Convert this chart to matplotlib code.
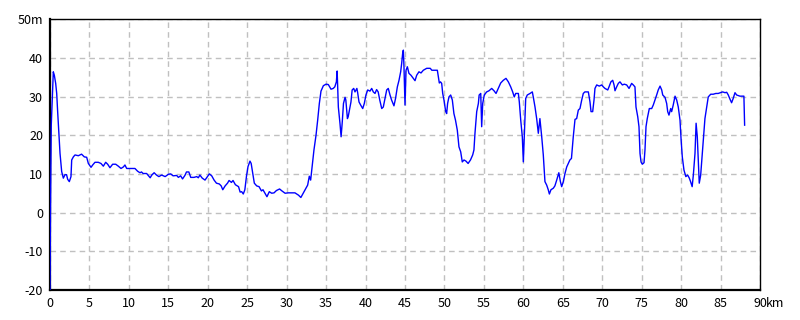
import numpy as np
import matplotlib.pyplot as plt

plt.rcParams['font.family'] = ['Noto Sans CJK JP', 'DejaVu Sans']

# 距離 (km) と標高 (m) — 図から読み取った値
km = [0.0, 0.06, 0.16, 0.42, 0.55, 0.72, 0.85, 0.97, 1.14, 1.27, 1.48, 1.69, 1.9, 2.1,
      2.24, 2.45, 2.66, 2.75, 2.96, 3.17, 3.59, 4.0, 4.35, 4.65, 4.86, 5.2, 5.41, 5.7,
      6.12, 6.46, 6.76, 7.06, 7.31, 7.6, 7.94, 8.33, 8.66, 9.0, 9.3, 9.5, 9.72, 10.0,
      10.35, 10.77, 11.1, 11.4, 11.6, 11.8, 12.25, 12.7, 12.9, 13.2, 13.5, 13.8, 14.15,
      14.6, 15.0, 15.3, 15.6, 16.06, 16.27, 16.56, 16.8, 17.1, 17.3, 17.6, 17.84, 18.25,
      18.6, 18.8, 19.0, 19.3, 19.65, 19.95, 20.2, 20.5, 20.8, 21.1, 21.46, 21.7, 21.9,
      22.2, 22.5, 22.7, 23.0, 23.2, 23.5, 23.9, 24.1, 24.3, 24.5, 24.7, 24.9, 25.1,
      25.35, 25.5, 25.7, 25.9, 26.2, 26.5, 26.8, 27.0, 27.25, 27.5, 27.8, 28.1, 28.4,
      28.7, 29.1, 29.4, 29.8, 30.2, 30.6, 31.05, 31.5, 31.8, 32.1, 32.45, 32.66, 32.87,
      33.04, 33.25, 33.46, 33.72, 33.93, 34.14, 34.35, 34.65, 34.99, 35.28, 35.62, 35.9,
      36.1, 36.3, 36.4, 36.55, 36.76, 36.9, 37.05, 37.2, 37.4, 37.5, 37.7, 37.8, 38.03,
      38.15, 38.3, 38.5, 38.66, 38.9, 39.0, 39.17, 39.38, 39.64, 39.84, 40.05, 40.27,
      40.56, 40.78, 40.98, 41.2, 41.4, 41.6, 41.8, 42.05, 42.25, 42.46, 42.68, 42.88,
      43.1, 43.3, 43.6, 43.8, 44.03, 44.24, 44.45, 44.58, 44.7, 44.79, 44.87, 45.0,
      45.13, 45.3, 45.5, 45.76, 46.05, 46.27, 46.48, 46.77, 47.03, 47.32, 47.75, 48.2,
      48.4, 48.8, 49.1, 49.2, 49.35, 49.5, 49.65, 49.78, 49.94, 50.16, 50.28, 50.4,
      50.57, 50.79, 51.0, 51.2, 51.4, 51.63, 51.84, 52.06, 52.26, 52.48, 52.73, 53.0,
      53.3, 53.58, 53.74, 53.87, 54.09, 54.3, 54.4, 54.6, 54.72, 54.85, 55.05, 55.35,
      55.65, 55.99, 56.28, 56.54, 56.83, 57.13, 57.46, 57.8, 58.1, 58.4, 58.65, 58.85,
      59.03, 59.37, 59.49, 59.67, 59.87, 60.0, 60.12, 60.3, 60.5, 60.85, 61.14, 61.26,
      61.48, 61.69, 61.9, 62.1, 62.33, 62.53, 62.74, 62.96, 63.16, 63.3, 63.5, 63.8,
      64.0, 64.23, 64.5, 64.7, 64.86, 65.07, 65.28, 65.5, 65.7, 65.9, 66.1, 66.33,
      66.55, 66.76, 66.97, 67.18, 67.4, 67.6, 67.8, 68.24, 68.45, 68.58, 68.79, 68.96,
      69.08, 69.3, 69.63, 69.93, 70.14, 70.35, 70.7, 70.86, 71.1, 71.33, 71.5, 71.62,
      71.83, 72.04, 72.25, 72.55, 72.8, 73.1, 73.4, 73.73, 73.94, 74.15, 74.28, 74.5,
      74.66, 74.79, 74.92, 75.08, 75.3, 75.42, 75.55, 75.71, 75.97, 76.27, 76.47,
      76.69, 76.9, 77.1, 77.33, 77.54, 77.67, 77.96, 78.17, 78.3, 78.46, 78.68, 78.8,
      79.0, 79.23, 79.44, 79.64, 79.86, 80.0, 80.15, 80.36, 80.6, 80.83, 81.04, 81.2,
      81.4, 81.55, 81.76, 81.9, 82.05, 82.18, 82.3, 82.48, 82.65, 82.8, 83.02, 83.24,
      83.44, 83.75, 84.07, 84.4, 84.7, 85.0, 85.27, 85.56, 85.78, 85.98, 86.2, 86.4,
      86.6, 86.83, 87.04, 87.46, 87.96, 88.05]
elev = [-20.0, 0.0, 22.6, 36.4, 35.5, 33.4, 30.8, 26.1, 20.0, 15.3, 10.6, 8.9, 9.8, 9.8,
        8.6, 8.0, 9.3, 13.6, 14.4, 14.9, 14.7, 15.1, 14.4, 14.3, 12.7, 11.7, 12.3, 13.0,
        13.0, 12.7, 12.0, 13.0, 12.5, 11.6, 12.5, 12.5, 12.0, 11.4, 11.8, 12.3, 11.4, 11.4,
        11.4, 11.4, 10.7, 10.3, 10.5, 10.1, 10.1, 9.0, 9.7, 10.3, 9.7, 9.3, 9.7,
        9.3, 9.9, 10.0, 9.5, 9.6, 9.1, 9.5, 8.7, 9.6, 10.5, 10.5, 9.1, 9.1,
        9.3, 9.0, 9.7, 8.9, 8.4, 9.3, 10.0, 9.5, 8.4, 7.6, 7.4, 6.9, 5.9,
        6.9, 7.6, 8.3, 7.8, 8.3, 7.2, 6.7, 5.3, 5.4, 4.8, 5.9, 9.3, 11.9,
        13.3, 12.7, 10.1, 7.6, 6.9, 6.7, 5.6, 5.9, 5.0, 4.1, 5.4, 5.0, 5.1,
        5.7, 6.1, 5.6, 5.0, 5.1, 5.1, 5.1, 4.5, 3.9, 5.0, 6.3, 7.1, 9.4,
        8.4, 12.3, 16.2, 20.0, 23.9, 28.2, 31.4, 32.8, 33.2, 33.1, 31.9, 32.1,
        32.5, 33.8, 36.6, 27.3, 23.0, 19.6, 23.5, 28.2, 29.8, 29.1, 24.3, 24.8, 27.3,
        28.6, 31.7, 32.1, 31.2, 32.1, 31.0, 28.6, 27.8, 26.9, 28.2, 30.4, 31.7,
        31.4, 32.1, 31.2, 30.8, 31.8, 31.2, 29.1, 26.9, 27.3, 29.5, 31.7, 32.1,
        30.4, 29.1, 27.6, 29.5, 32.5, 34.2, 36.4, 38.6, 41.1, 42.0, 37.7, 27.8,
        36.8, 37.7, 36.0, 35.5, 34.7, 34.1, 35.5, 36.4, 36.1, 36.8, 37.3, 37.3,
        36.8, 36.8, 36.8, 35.5, 33.5, 33.8, 33.4, 30.8, 29.1, 26.1, 25.6, 28.2,
        29.9, 30.4, 29.1, 25.6, 23.9, 21.3, 17.0, 15.7, 13.1, 13.6, 13.3, 12.7,
        13.6, 14.9, 16.2, 20.5, 26.1, 28.2, 30.4, 30.8, 22.2, 28.2, 30.4, 31.2,
        31.5, 32.1, 31.5, 30.8, 32.1, 33.5, 34.2, 34.7, 33.8, 32.5, 31.2, 29.9,
        30.8, 30.8, 28.6, 23.9, 19.6, 13.1, 19.6, 29.5, 30.4, 30.8, 31.2, 29.9,
        27.3, 24.3, 20.5, 24.3, 19.6, 14.9, 8.0, 7.1, 5.9, 4.8, 5.9, 6.3,
        6.9, 8.4, 10.3, 8.0, 6.7, 8.0, 10.1, 11.8, 12.7, 13.6, 14.0, 19.6,
        24.1, 24.3, 26.5, 26.9, 29.1, 30.8, 31.2, 31.2, 28.6, 26.1, 26.1, 29.1,
        32.1, 33.0, 32.7, 33.0, 32.5, 32.1, 31.7, 32.5, 33.8, 34.2, 33.0, 31.5,
        32.5, 33.4, 33.8, 33.0, 33.2, 33.0, 32.1, 33.4, 33.0, 32.5, 27.3, 24.8,
        22.2, 15.3, 13.1, 12.5, 12.9, 16.2, 22.2, 24.3, 26.9, 26.9, 27.8,
        29.1, 30.4, 31.7, 32.7, 31.7, 30.4, 29.8, 28.2, 26.1, 25.2, 26.9, 26.1,
        27.8, 30.1, 29.1, 27.3, 23.9, 18.8, 14.4, 11.0, 9.3, 9.7, 8.9, 8.0,
        6.7, 9.7, 15.3, 23.1, 19.6, 13.6, 7.6, 9.7, 14.4, 18.8, 24.3, 27.3,
        29.9, 30.6, 30.6, 30.8, 30.8, 31.0, 31.2, 31.0, 31.1, 30.4, 29.3, 28.4,
        29.5, 31.0, 30.4, 30.1, 30.1, 22.6]

xticks = [0, 5, 10, 15, 20, 25, 30, 35, 40, 45, 50, 55, 60, 65, 70, 75, 80, 85, 90]
xlabels = ['0', '5', '10', '15', '20', '25', '30', '35', '40', '45', '50', '55',
           '60', '65', '70', '75', '80', '85', '90']
yticks = [-20, -10, 0, 10, 20, 30, 40, 50]
ylabels = ['-20', '-10', '0', '10', '20', '30', '40', '50m']

fig = plt.figure(figsize=(8, 3.2), dpi=100)
ax = fig.add_axes([0.0625, 0.094, 0.8875, 0.846])

ax.plot(km, elev, color='#0000ff', lw=1, zorder=3)

ax.set_xlim(0, 90)
ax.set_ylim(-20, 50)
ax.set_xticks(xticks)
ax.set_xticklabels(xlabels)
ax.set_yticks(yticks)
ax.set_yticklabels(ylabels)
ax.tick_params(length=0, labelsize=9, pad=5)

# 右端の単位 (90 の直後に km)
ax.annotate('km', xy=(90, -20), xytext=(4.5, -5), textcoords='offset points',
            fontsize=9, ha='left', va='top', annotation_clip=False)

ax.grid(True, color='#c0c0c0', ls=(0, (4, 3)), lw=1)
ax.set_axisbelow(True)

for s in ['left', 'bottom']:
    ax.spines[s].set_linewidth(1.6)
for s in ['top', 'right']:
    ax.spines[s].set_linewidth(1.0)

fig.savefig('out.png', dpi=100)
